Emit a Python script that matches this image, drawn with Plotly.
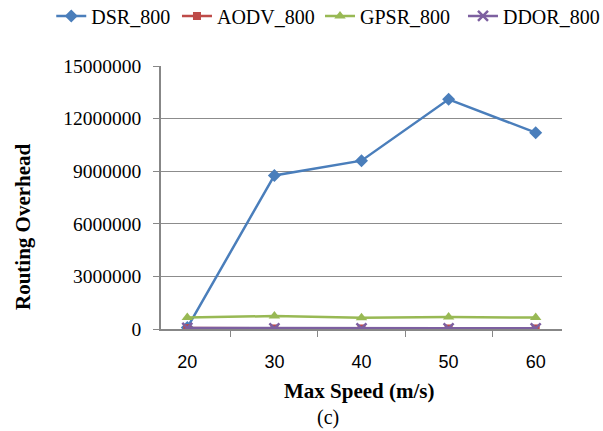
import plotly.graph_objects as go

speeds = ["20", "30", "40", "50", "60"]
dsr = [80000, 8760000, 9600000, 13100000, 11200000]
aodv = [50000, 30000, 30000, 30000, 30000]
gpsr = [650000, 740000, 640000, 690000, 650000]
ddor = [60000, 40000, 40000, 40000, 40000]
yticks = [0, 3000000, 6000000, 9000000, 12000000, 15000000]
series_names = ["DSR_800", "AODV_800", "GPSR_800", "DDOR_800"]

SERIF = "Liberation Serif"
SANS = "Liberation Sans"

fig = go.Figure()
styles = [
    ("#4a7ebb", "diamond", 10),
    ("#be4b48", "square", 8),
    ("#98b954", "triangle-up", 10),
    ("#7d60a0", "x-thin", 10),
]
data = [dsr, aodv, gpsr, ddor]
legend_ids = ["legend", "legend2", "legend3", "legend4"]
legend_x = [0.085, 0.2935, 0.5307, 0.7678]
for name, vals, (col, sym, sz), lid in zip(series_names, data, styles, legend_ids):
    fig.add_trace(go.Scatter(
        x=speeds, y=vals, name=name, mode="lines+markers", legend=lid,
        line=dict(color=col, width=2.5),
        marker=dict(symbol=sym, size=sz, color=col,
                    line=dict(color=col, width=2.5 if sym == "x-thin" else 0)),
    ))

legend_common = dict(orientation="h", xanchor="left", y=0.963, yanchor="middle",
                     xref="container", yref="container",
                     font=dict(family=SERIF, size=20, color="black"),
                     itemwidth=30, bgcolor="rgba(0,0,0,0)")
legends = {lid: dict(legend_common, x=lx) for lid, lx in zip(legend_ids, legend_x)}

fig.update_layout(
    width=603, height=431,
    margin=dict(l=161, r=41, t=66, b=102, autoexpand=False),
    paper_bgcolor="white", plot_bgcolor="white",
    font=dict(family=SERIF, size=18, color="black"),
    showlegend=True,
    **legends,
    xaxis=dict(type="category", tickson="boundaries", ticks="outside", ticklen=6,
               tickcolor="#878787", showline=True, linecolor="#878787", linewidth=1.5,
               showgrid=False, tickfont=dict(family=SANS, size=18, color="black"),
               ticklabelstandoff=16),
    yaxis=dict(range=[0, 15000000], tickvals=yticks, ticktext=[str(v) for v in yticks],
               ticks="outside", ticklen=6, tickcolor="#878787",
               showline=True, linecolor="#878787", linewidth=1.5,
               showgrid=True, gridcolor="#8c8c8c", gridwidth=1.2, zeroline=False,
               tickfont=dict(family=SERIF, size=19.5, color="black"),
               ticklabelstandoff=8),
)
fig.add_annotation(text="<b>Max Speed (m/s)</b>", xref="paper", yref="paper",
                   x=0.494, y=-0.236, xanchor="center", yanchor="middle", showarrow=False,
                   font=dict(family=SERIF, size=21, color="black"))
fig.add_annotation(text="<b>Routing Overhead</b>", xref="paper", yref="paper",
                   x=-0.344, y=0.388, xanchor="center", yanchor="middle", showarrow=False,
                   textangle=-90, font=dict(family=SERIF, size=21, color="black"))
fig.add_annotation(text="(c)", xref="paper", yref="paper", x=0.416, y=-0.338,
                   xanchor="center", yanchor="middle", showarrow=False,
                   font=dict(family=SERIF, size=20, color="black"))
fig.write_html("out.html")
